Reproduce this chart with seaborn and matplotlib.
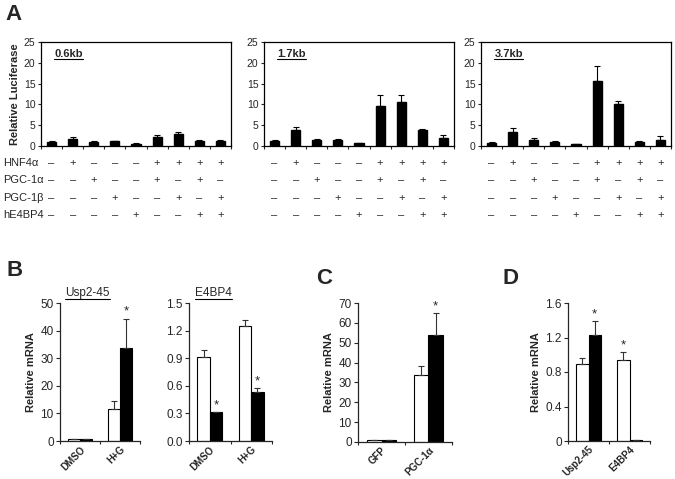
import numpy as np
import pandas as pd
import matplotlib
matplotlib.use('Agg')
import matplotlib.pyplot as plt
import matplotlib.transforms as mtransforms
import seaborn as sns

# ---- data ----
# panel A: luciferase reporter, 9 transfection conditions
a_titles = ['0.6kb', '1.7kb', '3.7kb']
a_vals = [
    [1.0, 1.8, 1.0, 1.2, 0.6, 2.2, 3.0, 1.3, 1.2],
    [1.1, 3.8, 1.4, 1.4, 0.7, 9.7, 10.6, 3.8, 2.0],
    [0.7, 3.3, 1.5, 1.0, 0.4, 15.7, 10.0, 1.0, 1.5],
]
a_errs = [
    [0.1, 0.3, 0.1, 0.1, 0.1, 0.5, 0.4, 0.15, 0.15],
    [0.3, 0.8, 0.4, 0.3, 0.1, 2.5, 1.7, 0.4, 0.6],
    [0.2, 1.1, 0.5, 0.3, 0.1, 3.6, 0.9, 0.3, 0.8],
]
sign_rows = ['HNF4\u03b1', 'PGC-1\u03b1', 'PGC-1\u03b2', 'hE4BP4']
signs = [
    '-+---++++',
    '--+--+-+-',
    '---+--+-+',
    '----+--++',
]

# panel B
b_groups = ['DMSO', 'H+G']
usp_ctrl = [0.9, 11.5]
usp_ctrl_err = [0.0, 3.1]
usp_trt = [0.9, 33.7]
usp_trt_err = [0.0, 10.6]
usp_star = [False, True]
e4_ctrl = [0.91, 1.25]
e4_ctrl_err = [0.08, 0.07]
e4_trt = [0.31, 0.53]
e4_trt_err = [0.01, 0.05]
e4_star = [True, True]

# panel C
c_groups = ['GFP', 'PGC-1\u03b1']
c_ctrl = [1.0, 33.9]
c_ctrl_err = [0.0, 4.2]
c_trt = [1.0, 53.8]
c_trt_err = [0.0, 11.2]
c_star = [False, True]

# panel D
d_groups = ['Usp2-45', 'E4BP4']
d_ctrl = [0.89, 0.94]
d_ctrl_err = [0.07, 0.09]
d_trt = [1.23, 0.01]
d_trt_err = [0.16, 0.0]
d_star_ctrl = [False, True]
d_star_trt = [True, False]

sns.set_style('white')
plt.rcParams['font.family'] = ['Liberation Sans', 'DejaVu Sans']
plt.rcParams['axes.linewidth'] = 0.9

W, H = 675, 479
fig = plt.figure(figsize=(W / 100, H / 100), dpi=100)
underlined = []


def px_axes(left, top, right, bottom):
    return fig.add_axes([left / W, 1 - bottom / H, (right - left) / W, (bottom - top) / H])


def fig_y(py):
    return 1 - py / H


# ---------------- panel A ----------------
a_lefts = [41, 264, 481]
sign_y = [163, 180, 198, 215]
for k in range(3):
    ax = px_axes(a_lefts[k], 42, a_lefts[k] + 190, 146)
    x = np.arange(9)
    sns.barplot(x=x, y=a_vals[k], color='black', width=0.43, ax=ax,
                saturation=1, edgecolor='black')
    ax.errorbar(x, a_vals[k], yerr=[np.zeros(9), a_errs[k]], fmt='none',
                ecolor='black', elinewidth=0.8, capsize=2.2, capthick=0.8)
    ax.set_ylim(0, 25)
    ax.set_xlim(-0.5, 8.5)
    ax.set_yticks([0, 5, 10, 15, 20, 25])
    ax.set_xticks(np.arange(-0.5, 9, 1))
    ax.set_xticklabels([])
    ax.tick_params(axis='both', direction='out', length=2.5, width=0.8,
                   labelsize=7.5, pad=1.5, bottom=True, left=True)
    for s in ax.spines.values():
        s.set_visible(True)
        s.set_color('black')
    t = ax.text(0.07, 0.93, a_titles[k], transform=ax.transAxes, fontsize=8,
                fontweight='bold', va='top', ha='left')
    underlined.append(t)
    ax.set_xlabel('')
    if k == 0:
        ax.set_ylabel('Relative Luciferase', fontsize=8, fontweight='bold', labelpad=3)
    else:
        ax.set_ylabel('')
    # sign table
    tr = mtransforms.blended_transform_factory(ax.transData, fig.transFigure)
    for r in range(4):
        for i, ch in enumerate(signs[r]):
            ax.text(i, fig_y(sign_y[r]), '+' if ch == '+' else '\u2013',
                    transform=tr, ha='center', va='center', fontsize=8)

for r in range(4):
    fig.text(3 / W, fig_y(sign_y[r]), sign_rows[r], fontsize=8, ha='left', va='center')

fig.text(5 / W, fig_y(14), 'A', fontsize=16, fontweight='bold', ha='left', va='center')


# ---------------- helpers for B-D ----------------
def grouped(ax, groups, ctrl, ctrl_err, trt, trt_err):
    df = pd.DataFrame({
        'group': groups * 2,
        'value': list(ctrl) + list(trt),
        'cond': ['ctrl'] * len(groups) + ['trt'] * len(groups),
    })
    sns.barplot(data=df, x='group', y='value', hue='cond', order=groups,
                palette={'ctrl': 'white', 'trt': 'black'}, edgecolor='black',
                linewidth=0.8, width=0.6, saturation=1, legend=False, ax=ax)
    pos = []
    for cont, vals, errs in zip(ax.containers[:2], [ctrl, trt], [ctrl_err, trt_err]):
        xs = [b.get_x() + b.get_width() / 2 for b in cont]
        pos.append(xs)
        ax.errorbar(xs, vals, yerr=[np.zeros(len(vals)), errs], fmt='none',
                    ecolor='#333333', elinewidth=0.8, capsize=2.2, capthick=0.8)
    ax.set_xlim(-0.5, len(groups) - 0.5)
    ax.set_xticks(np.arange(-0.5, len(groups), 1))
    ax.set_xticklabels([])
    ax.set_xticks(np.arange(len(groups)), minor=True)
    ax.set_xticklabels(groups, minor=True, rotation=45, ha='right',
                       rotation_mode='anchor', fontsize=7, fontweight='bold')
    ax.tick_params(axis='x', which='minor', length=0, pad=2.5)
    ax.tick_params(axis='x', which='major', direction='out', length=2.5, width=0.8, bottom=True)
    ax.tick_params(axis='y', direction='out', length=3, width=0.8, labelsize=8.5, pad=1.5, left=True)
    sns.despine(ax=ax)
    ax.set_xlabel('')
    ax.set_ylabel('')
    return pos


def star(ax, x, y):
    ax.text(x, y, '*', ha='center', va='bottom', fontsize=9.5)


# ---------------- panel B ----------------
axb1 = px_axes(60, 303, 140, 441)
pos = grouped(axb1, b_groups, usp_ctrl, usp_ctrl_err, usp_trt, usp_trt_err)
axb1.set_ylim(0, 50)
axb1.set_yticks([0, 10, 20, 30, 40, 50])
for i in range(2):
    if usp_star[i]:
        star(axb1, pos[1][i], usp_trt[i] + usp_trt_err[i] + 0.3)
axb1.set_ylabel('Relative mRNA', fontsize=8, fontweight='bold', labelpad=3)

axb2 = px_axes(189, 303, 272, 441)
pos = grouped(axb2, b_groups, e4_ctrl, e4_ctrl_err, e4_trt, e4_trt_err)
axb2.set_ylim(0, 1.5)
axb2.set_yticks([0, 0.3, 0.6, 0.9, 1.2, 1.5])
axb2.set_yticklabels(['0.0', '0.3', '0.6', '0.9', '1.2', '1.5'])
for i in range(2):
    if e4_star[i]:
        star(axb2, pos[1][i], e4_trt[i] + e4_trt_err[i] + 0.005)

underlined.append(fig.text(65 / W, fig_y(293), 'Usp2-45', fontsize=8.5, ha='left', va='center'))
underlined.append(fig.text(195 / W, fig_y(293), 'E4BP4', fontsize=8.5, ha='left', va='center'))

fig.text(6 / W, fig_y(271), 'B', fontsize=16, fontweight='bold', ha='left', va='center')

# ---------------- panel C ----------------
axc = px_axes(358, 303, 452, 442)
pos = grouped(axc, c_groups, c_ctrl, c_ctrl_err, c_trt, c_trt_err)
axc.set_ylim(0, 70)
axc.set_yticks([0, 10, 20, 30, 40, 50, 60, 70])
for i in range(2):
    if c_star[i]:
        star(axc, pos[1][i], c_trt[i] + c_trt_err[i] + 0.3)
axc.set_ylabel('Relative mRNA', fontsize=8, fontweight='bold', labelpad=3)
fig.text(316 / W, fig_y(278), 'C', fontsize=16, fontweight='bold', ha='left', va='center')

# ---------------- panel D ----------------
axd = px_axes(568, 303, 650, 441)
pos = grouped(axd, d_groups, d_ctrl, d_ctrl_err, d_trt, d_trt_err)
axd.set_ylim(0, 1.6)
axd.set_yticks([0, 0.4, 0.8, 1.2, 1.6])
axd.set_yticklabels(['0', '0.4', '0.8', '1.2', '1.6'])
for i in range(2):
    if d_star_ctrl[i]:
        star(axd, pos[0][i], d_ctrl[i] + d_ctrl_err[i] + 0.005)
    if d_star_trt[i]:
        star(axd, pos[1][i], d_trt[i] + d_trt_err[i] + 0.005)
axd.set_ylabel('Relative mRNA', fontsize=8, fontweight='bold', labelpad=3)
fig.text(502 / W, fig_y(278), 'D', fontsize=16, fontweight='bold', ha='left', va='center')

# underline titles
fig.canvas.draw()
renderer = fig.canvas.get_renderer()
for t in underlined:
    bb = t.get_window_extent(renderer).transformed(fig.transFigure.inverted())
    fig.add_artist(plt.Line2D([bb.x0, bb.x1], [bb.y0 + 0.001] * 2,
                              color='black', lw=0.8))

fig.savefig('out.png', dpi=100)
